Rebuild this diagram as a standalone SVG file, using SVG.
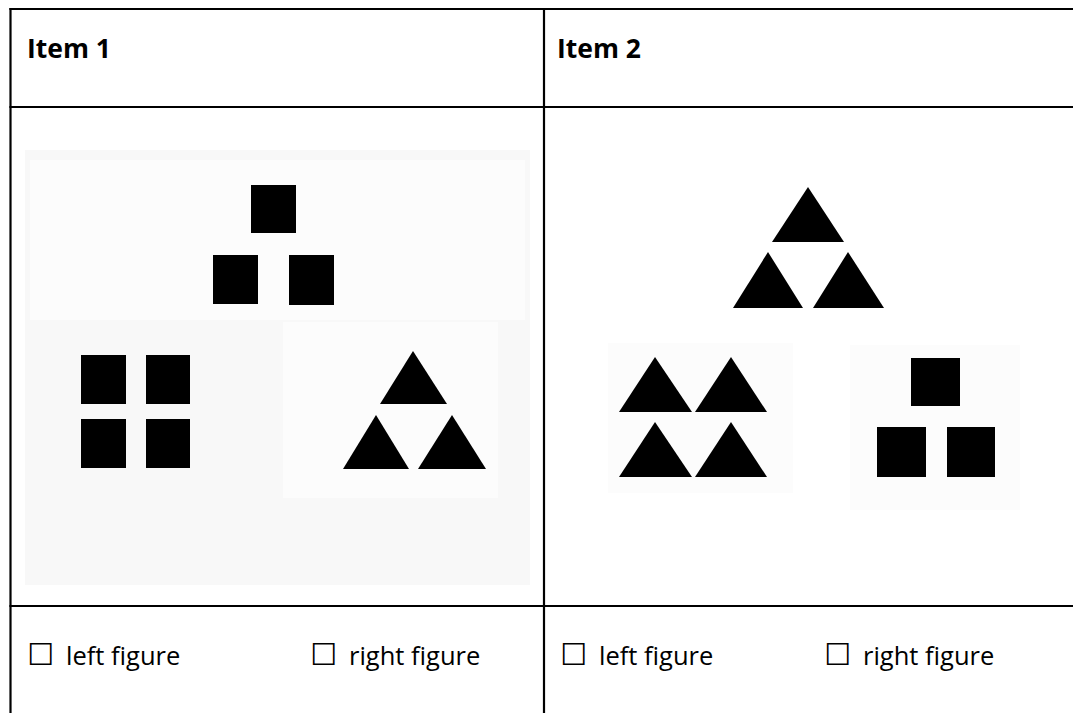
<svg xmlns="http://www.w3.org/2000/svg" width="1073" height="713" viewBox="0 0 1073 713">
  <style>
    .grid { stroke: #000; stroke-width: 2.2; fill: none; }
    .title { font-family: "Open Sans", "Liberation Sans", sans-serif; font-weight: bold; font-size: 26.5px; fill: #000; }
    .opt { font-family: "Open Sans", "Liberation Sans", sans-serif; font-size: 25.5px; fill: #000; }
    .box { font-family: "DejaVu Sans", sans-serif; font-size: 30px; }
    .shape { fill: #000; }
    .bg1 { fill: #f8f8f8; }
    .bgw { fill: #fcfcfc; }
  </style>
  <rect width="1073" height="713" fill="#fff"/>

  <g id="table">
    <line class="grid" x1="9.4" y1="9" x2="1073" y2="9"/>
    <line class="grid" x1="9.4" y1="107" x2="1073" y2="107"/>
    <line class="grid" x1="9.4" y1="606" x2="1073" y2="606"/>
    <line class="grid" x1="10.5" y1="8" x2="10.5" y2="713"/>
    <line class="grid" x1="544" y1="8" x2="544" y2="713"/>
  </g>

  <g id="item1-header">
    <text class="title" x="27" y="58">Item 1</text>
  </g>
  <g id="item2-header">
    <text class="title" x="557" y="58">Item 2</text>
  </g>

  <g id="item1-picture">
    <rect class="bg1" x="25" y="150" width="505" height="435"/>
    <rect class="bgw" x="30" y="160" width="495" height="160"/>
    <rect class="bgw" x="283" y="322" width="215" height="176"/>
    <g id="item1-top-squares">
      <rect class="shape" x="251" y="185" width="45" height="48"/>
      <rect class="shape" x="213" y="255" width="45" height="49"/>
      <rect class="shape" x="289" y="255" width="45" height="50"/>
    </g>
    <g id="item1-left-squares">
      <rect class="shape" x="81" y="355" width="45" height="49"/>
      <rect class="shape" x="146" y="355" width="44" height="49"/>
      <rect class="shape" x="81" y="419" width="45" height="49"/>
      <rect class="shape" x="146" y="419" width="44" height="49"/>
    </g>
    <g id="item1-right-triangles">
      <polygon class="shape" points="413,351 447,404 380,404"/>
      <polygon class="shape" points="376,415 409,469 343,469"/>
      <polygon class="shape" points="452,415 486,469 418,469"/>
    </g>
  </g>

  <g id="item2-picture">
    <rect class="bgw" x="608" y="343" width="185" height="150"/>
    <rect class="bgw" x="850" y="345" width="170" height="165"/>
    <g id="item2-top-triangles">
      <polygon class="shape" points="808,187 844,242 772,242"/>
      <polygon class="shape" points="768,252 803,308 733,308"/>
      <polygon class="shape" points="848,252 884,308 813,308"/>
    </g>
    <g id="item2-left-triangles">
      <polygon class="shape" points="655,357 692,412 619,412"/>
      <polygon class="shape" points="731,357 767,412 695,412"/>
      <polygon class="shape" points="655,422 692,477 619,477"/>
      <polygon class="shape" points="731,422 767,477 695,477"/>
    </g>
    <g id="item2-right-squares">
      <rect class="shape" x="911" y="358" width="49" height="48"/>
      <rect class="shape" x="877" y="427" width="49" height="50"/>
      <rect class="shape" x="947" y="427" width="48" height="50"/>
    </g>
  </g>

  <g id="item1-options">
    <text class="opt" x="27" y="665"><tspan class="box">☐</tspan></text>
    <text class="opt" x="66" y="665">left figure</text>
    <text class="opt" x="310" y="665"><tspan class="box">☐</tspan></text>
    <text class="opt" x="349" y="665">right figure</text>
  </g>
  <g id="item2-options">
    <text class="opt" x="560" y="665"><tspan class="box">☐</tspan></text>
    <text class="opt" x="599" y="665">left figure</text>
    <text class="opt" x="824" y="665"><tspan class="box">☐</tspan></text>
    <text class="opt" x="863" y="665">right figure</text>
  </g>
</svg>
